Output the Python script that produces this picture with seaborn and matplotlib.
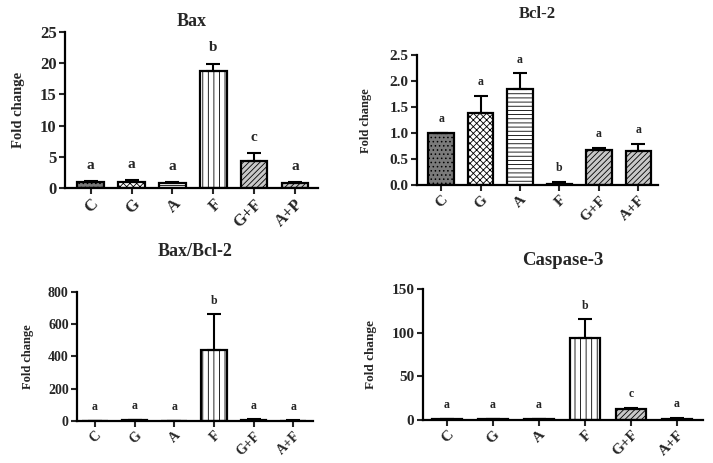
import numpy as np
import pandas as pd
import seaborn as sns
import matplotlib.pyplot as plt

# group labels per panel
groups_bax = ['C', 'G', 'A', 'F', 'G+F', 'A+P']
groups = ['C', 'G', 'A', 'F', 'G+F', 'A+F']

# Bax
bax_mean = [1.0, 1.0, 0.8, 18.7, 4.3, 0.8]
bax_err = [0.05, 0.2, 0.15, 1.2, 1.3, 0.15]
bax_sig = ['a', 'a', 'a', 'b', 'c', 'a']

# Bcl-2
bcl_mean = [1.0, 1.38, 1.84, 0.03, 0.67, 0.65]
bcl_err = [0.0, 0.33, 0.31, 0.04, 0.05, 0.15]
bcl_sig = ['a', 'a', 'a', 'b', 'a', 'a']

# Bax/Bcl-2
ratio_mean = [1, 3, 0.5, 440, 6, 2]
ratio_err = [0, 2, 0, 220, 4, 1]
ratio_sig = ['a', 'a', 'a', 'b', 'a', 'a']

# Caspase-3
casp_mean = [1.0, 1.2, 1.2, 94, 12, 1.5]
casp_err = [0.2, 0.3, 0.3, 21, 2, 1]
casp_sig = ['a', 'a', 'a', 'b', 'c', 'a']

fills = ['#7a7a7a', 'white', 'white', 'white', '#c8c8c8', '#c8c8c8']
hatches = ['....', 'xxxxx', '----', '|||', '//////', '//////']

sns.set_style('white')
plt.rcParams['font.family'] = ['Liberation Serif', 'DejaVu Serif']
plt.rcParams['font.weight'] = 'bold'
plt.rcParams['hatch.linewidth'] = 0.6

fig = plt.figure(figsize=(7.13, 4.63), dpi=100)

panels = [
    # name, labels, mean, err, sig, rect, ylim, step, xlim, title pad, fonts
    ('Bax', groups_bax, bax_mean, bax_err, bax_sig, [0.091, 0.594, 0.355, 0.337], 25, 5,
     (-0.63, 5.56), 4, 13, 12, 11, 10.5, -0.158),
    ('Bcl-2', groups, bcl_mean, bcl_err, bcl_sig, [0.585, 0.600, 0.338, 0.281], 2.5, 0.5,
     (-0.61, 5.5), 27, 12, 11, 8.5, 9, -0.188),
    ('Bax/Bcl-2', groups, ratio_mean, ratio_err, ratio_sig, [0.108, 0.091, 0.331, 0.279], 800, 200,
     (-0.45, 5.5), 26, 13, 10, 8.5, 9, -0.182),
    ('Caspase-3', groups, casp_mean, casp_err, casp_sig, [0.593, 0.093, 0.393, 0.283], 150, 50,
     (-0.52, 5.57), 17, 13.5, 11, 8.5, 9.5, -0.165),
]

for (name, labels, mean, err, sig, rect, ytop, ystep, xlim, pad,
     tfs, tickfs, sigfs, labfs, labx) in panels:
    ax = fig.add_axes(rect)
    df = pd.DataFrame({'group': labels, 'value': mean})
    sns.barplot(data=df, x='group', y='value', hue='group', palette=fills,
                legend=False, width=0.65, edgecolor='black', linewidth=1.6,
                errorbar=None, ax=ax)
    for patch, h in zip(ax.patches, hatches):
        patch.set_hatch(h)
    xs = np.arange(len(labels))
    ax.errorbar(xs, mean, yerr=[np.zeros(len(err)), err], fmt='none',
                ecolor='black', elinewidth=1.5, capsize=5, capthick=1.5, zorder=1)
    off = ytop * 0.06
    for x, m, e, s in zip(xs, mean, err, sig):
        ax.text(x, m + e + off, s, ha='center', va='bottom',
                fontsize=sigfs, fontweight='bold')
    ax.set_ylim(0, ytop)
    ticks = np.arange(0, ytop + ystep / 2, ystep)
    ax.set_yticks(ticks)
    if ystep < 1:
        ax.set_yticklabels(['%.1f' % v for v in ticks])
    ax.set_xlim(*xlim)
    ax.set_title(name, fontsize=tfs, fontweight='bold', pad=pad)
    ax.set_xlabel('')
    ax.set_ylabel('Fold change', fontsize=labfs, fontweight='bold')
    ax.yaxis.set_label_coords(labx, 0.5)
    ax.set_xticks(xs)
    ax.set_xticklabels(labels, rotation=45, ha='right', rotation_mode='anchor',
                       fontsize=tickfs, fontweight='bold')
    ax.tick_params(axis='both', direction='out', length=4, width=1.5,
                   bottom=True, left=True, pad=2)
    ax.tick_params(axis='y', labelsize=tickfs)
    sns.despine(ax=ax)
    for sp in ['left', 'bottom']:
        ax.spines[sp].set_linewidth(1.6)
        ax.spines[sp].set_color('black')

fig.savefig('out.png', dpi=100)
